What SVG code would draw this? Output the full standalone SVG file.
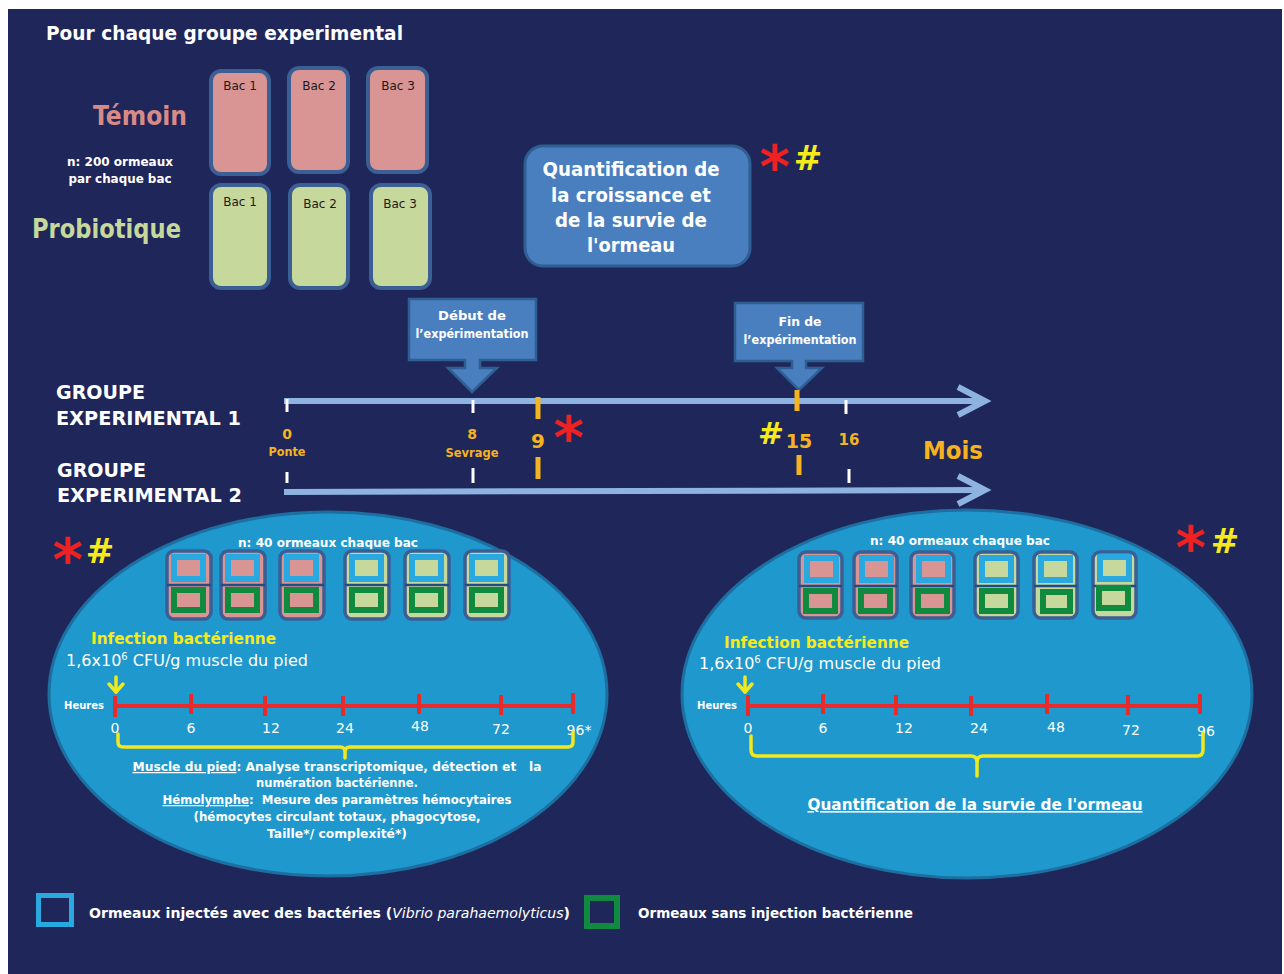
<svg xmlns="http://www.w3.org/2000/svg" width="1284" height="974" viewBox="0 0 1284 974">
<defs>
<style>
text{font-family:"DejaVu Sans","Liberation Sans",sans-serif;}
.b{font-weight:bold;}
.w{fill:#ffffff;}
.or{fill:#f5b320;}
.ye{fill:#f4ea1c;}
.rd{fill:#ee2222;}
.bigbac{stroke:#3b5f94;stroke-width:4;}
.pk{fill:#d99593;}
.gr{fill:#c6d89c;}
.bactxt{font-size:12px;fill:#1a1a1a;text-anchor:middle;}
.callout{fill:#4a7fbf;stroke:#2f5e93;stroke-width:2.5;}
.tl{stroke:#8fb3e0;stroke-width:6;fill:none;}
.wt{stroke:#ffffff;stroke-width:3;}
.ot{stroke:#f5b320;stroke-width:5;}
.ell{fill:#1f98cd;stroke:#1c6fa0;stroke-width:3;}
.sb{stroke:#3b5f94;stroke-width:3.5;}
.bf{stroke:#2aa9e0;stroke-width:6;}
.gf{stroke:#108a3e;stroke-width:6;}
.dv{stroke:#1f4e86;stroke-width:2.5;}
.red{stroke:#e82a2a;stroke-width:4;fill:none;}
.yl{stroke:#f2e81e;stroke-width:3.5;fill:none;stroke-linecap:round;stroke-linejoin:round;}
.num{font-size:14px;fill:#ffffff;text-anchor:middle;}
.mid{text-anchor:middle;}
</style>
</defs>
<rect x="0" y="0" width="1284" height="974" fill="#ffffff"/>
<rect x="8" y="9" width="1274" height="965" fill="#1f275a"/>

<g id="title">
<text x="46" y="40" class="b w" font-size="20" textLength="357" lengthAdjust="spacingAndGlyphs">Pour chaque groupe experimental</text>
</g>

<g id="labels-groups">
<text x="93" y="125" class="b" font-size="27" fill="#d88a87" textLength="94" lengthAdjust="spacingAndGlyphs">Témoin</text>
<text x="120" y="166" class="b w mid" font-size="12" textLength="106" lengthAdjust="spacingAndGlyphs">n: 200 ormeaux</text>
<text x="120" y="183" class="b w mid" font-size="12" textLength="103" lengthAdjust="spacingAndGlyphs">par chaque bac</text>
<text x="32" y="238" class="b" font-size="27" fill="#c6d89c" textLength="149" lengthAdjust="spacingAndGlyphs">Probiotique</text>
</g>

<g id="bac-temoin-1"><rect x="211" y="71" width="58" height="103" rx="10" class="bigbac pk"/><text x="240" y="90" class="bactxt">Bac 1</text></g>
<g id="bac-temoin-2"><rect x="289" y="68" width="59" height="104" rx="10" class="bigbac pk"/><text x="319" y="90" class="bactxt">Bac 2</text></g>
<g id="bac-temoin-3"><rect x="368" y="68" width="59" height="104" rx="10" class="bigbac pk"/><text x="398" y="90" class="bactxt">Bac 3</text></g>
<g id="bac-probio-1"><rect x="211" y="185" width="58" height="103" rx="10" class="bigbac gr"/><text x="240" y="206" class="bactxt">Bac 1</text></g>
<g id="bac-probio-2"><rect x="290" y="185" width="58" height="103" rx="10" class="bigbac gr"/><text x="320" y="208" class="bactxt">Bac 2</text></g>
<g id="bac-probio-3"><rect x="371" y="185" width="59" height="103" rx="10" class="bigbac gr"/><text x="400" y="208" class="bactxt">Bac 3</text></g>

<g id="quantif-croissance">
<rect x="525" y="146" width="225" height="120" rx="18" fill="#4a7fbf" stroke="#2f5e93" stroke-width="3"/>
<text x="631" y="176" class="b w mid" font-size="19" textLength="177" lengthAdjust="spacingAndGlyphs">Quantification de</text>
<text x="631" y="202" class="b w mid" font-size="19" textLength="160" lengthAdjust="spacingAndGlyphs">la croissance et</text>
<text x="631" y="227" class="b w mid" font-size="19" textLength="152" lengthAdjust="spacingAndGlyphs">de la survie de</text>
<text x="631" y="252" class="b w mid" font-size="19" textLength="88" lengthAdjust="spacingAndGlyphs">l'ormeau</text>
<text x="775" y="187" class="b rd mid" font-size="58">*</text>
<text x="808" y="170" class="b ye mid" font-size="34">#</text>
</g>

<g id="callout-debut">
<path d="M409,299 H536 V360 H480 V368 H497 L472,392 L448,368 H465 V360 H409 Z" class="callout"/>
<text x="472" y="320" class="b w mid" font-size="12.5" textLength="68" lengthAdjust="spacingAndGlyphs">Début de</text>
<text x="472" y="338" class="b w mid" font-size="12.5" textLength="113" lengthAdjust="spacingAndGlyphs">l’expérimentation</text>
</g>
<g id="callout-fin">
<path d="M735,303 H863 V361 H806 V368 H822 L799,390 L777,368 H792 V361 H735 Z" class="callout"/>
<text x="800" y="326" class="b w mid" font-size="12.5" textLength="43" lengthAdjust="spacingAndGlyphs">Fin de</text>
<text x="800" y="344" class="b w mid" font-size="12.5" textLength="113" lengthAdjust="spacingAndGlyphs">l’expérimentation</text>
</g>

<g id="groupe-labels">
<text x="56" y="399" class="b w" font-size="19.5" textLength="89" lengthAdjust="spacingAndGlyphs">GROUPE</text>
<text x="56" y="425" class="b w" font-size="19.5" textLength="185" lengthAdjust="spacingAndGlyphs">EXPERIMENTAL 1</text>
<text x="57" y="477" class="b w" font-size="19.5" textLength="89" lengthAdjust="spacingAndGlyphs">GROUPE</text>
<text x="57" y="502" class="b w" font-size="19.5" textLength="185" lengthAdjust="spacingAndGlyphs">EXPERIMENTAL 2</text>
</g>

<g id="connectors">
<line x1="284" y1="401" x2="984" y2="401" class="tl"/>
<polyline points="958,387 985,401 958,415" class="tl" stroke-linejoin="miter"/>
<line x1="284" y1="492" x2="984" y2="490" class="tl"/>
<polyline points="958,476 985,490 958,504" class="tl" stroke-linejoin="miter"/>
</g>

<g id="timeline-ticks">
<line x1="287" y1="399" x2="287" y2="412" class="wt"/>
<line x1="287" y1="472" x2="287" y2="483" class="wt"/>
<line x1="473" y1="400" x2="473" y2="413" class="wt"/>
<line x1="473" y1="468" x2="473" y2="483" class="wt"/>
<line x1="846" y1="400" x2="846" y2="414" class="wt"/>
<line x1="849" y1="469" x2="849" y2="483" class="wt"/>
<line x1="538" y1="397" x2="538" y2="419" class="ot"/>
<line x1="538" y1="457" x2="538" y2="479" class="ot"/>
<line x1="797" y1="390" x2="797" y2="411" class="ot"/>
<line x1="799" y1="455" x2="799" y2="475" class="ot"/>
</g>

<g id="timeline-labels">
<text x="287" y="439" class="b or mid" font-size="14">0</text>
<text x="287" y="456" class="b or mid" font-size="12" textLength="37" lengthAdjust="spacingAndGlyphs">Ponte</text>
<text x="472" y="439" class="b or mid" font-size="14">8</text>
<text x="472" y="457" class="b or mid" font-size="12" textLength="53" lengthAdjust="spacingAndGlyphs">Sevrage</text>
<text x="538" y="448" class="b or mid" font-size="20">9</text>
<text x="569" y="458" class="b rd mid" font-size="58">*</text>
<text x="771" y="444" class="b ye mid" font-size="31">#</text>
<text x="799" y="448" class="b or mid" font-size="19">15</text>
<text x="849" y="445" class="b or mid" font-size="15">16</text>
<text x="923" y="459" class="b or" font-size="25" textLength="60" lengthAdjust="spacingAndGlyphs">Mois</text>
</g>

<g id="ellipse-gauche">
<ellipse cx="328" cy="694" rx="279" ry="182" class="ell"/>
<text x="68" y="580" class="b rd mid" font-size="58">*</text>
<text x="100" y="563" class="b ye mid" font-size="34">#</text>
<text x="328" y="547" class="b w mid" font-size="12.5" textLength="180" lengthAdjust="spacingAndGlyphs">n: 40 ormeaux chaque bac</text>
<g id="bacs-gauche">
<g transform="translate(167,0)"><rect x="0" y="551" width="44" height="68" rx="7" class="sb pk"/><rect x="7" y="557" width="29" height="22" class="bf pk"/><line x1="0" y1="585" x2="44" y2="585" class="dv"/><rect x="7" y="590" width="29" height="20" class="gf pk"/></g>
<g transform="translate(221,0)"><rect x="0" y="551" width="44" height="68" rx="7" class="sb pk"/><rect x="7" y="557" width="29" height="22" class="bf pk"/><line x1="0" y1="585" x2="44" y2="585" class="dv"/><rect x="7" y="590" width="29" height="20" class="gf pk"/></g>
<g transform="translate(280,0)"><rect x="0" y="551" width="44" height="68" rx="7" class="sb pk"/><rect x="7" y="557" width="29" height="22" class="bf pk"/><line x1="0" y1="585" x2="44" y2="585" class="dv"/><rect x="7" y="590" width="29" height="20" class="gf pk"/></g>
<g transform="translate(345,0)"><rect x="0" y="551" width="44" height="68" rx="7" class="sb gr"/><rect x="7" y="557" width="29" height="22" class="bf gr"/><line x1="0" y1="585" x2="44" y2="585" class="dv"/><rect x="7" y="590" width="29" height="20" class="gf gr"/></g>
<g transform="translate(405,0)"><rect x="0" y="551" width="44" height="68" rx="7" class="sb gr"/><rect x="7" y="557" width="29" height="22" class="bf gr"/><line x1="0" y1="585" x2="44" y2="585" class="dv"/><rect x="7" y="590" width="29" height="20" class="gf gr"/></g>
<g transform="translate(465,0)"><rect x="0" y="551" width="44" height="68" rx="7" class="sb gr"/><rect x="7" y="557" width="29" height="22" class="bf gr"/><line x1="0" y1="585" x2="44" y2="585" class="dv"/><rect x="7" y="590" width="29" height="20" class="gf gr"/></g>
</g>
<text x="91" y="644" class="b ye" font-size="16" textLength="185" lengthAdjust="spacingAndGlyphs">Infection bactérienne</text>
<text x="66" y="666" class="w" font-size="16" textLength="242" lengthAdjust="spacingAndGlyphs">1,6x10<tspan font-size="10" dy="-6">6</tspan><tspan dy="6"> CFU/g muscle du pied</tspan></text>
<polyline points="116,677 116,692" class="yl" stroke-width="4"/>
<polyline points="109,684 116,692 123,684" class="yl" stroke-width="4"/>
<text x="84" y="709" class="b w mid" font-size="11" textLength="40" lengthAdjust="spacingAndGlyphs">Heures</text>
<line x1="115" y1="706" x2="573" y2="706" class="red"/>
<path d="M115,696 V717 M191,694 V714 M265,696 V716 M343,696 V716 M419,694 V714 M501,695 V715 M573,693 V714" class="red" stroke-width="3.5"/>
<text x="115" y="733" class="num">0</text>
<text x="191" y="733" class="num">6</text>
<text x="271" y="733" class="num">12</text>
<text x="345" y="733" class="num">24</text>
<text x="420" y="731" class="num">48</text>
<text x="501" y="734" class="num">72</text>
<text x="579" y="735" class="num">96*</text>
<path d="M118,734 V742 Q118,747 123,747 H340 Q345,747 345,752 V758 M345,752 Q345,747 350,747 H568 Q573,747 573,742 V732" class="yl"/>
<text x="337" y="771" class="b w mid" font-size="12.5" textLength="409" lengthAdjust="spacingAndGlyphs" style="white-space:pre"><tspan text-decoration="underline">Muscle du pied</tspan>: Analyse transcriptomique, détection et   la</text>
<text x="337" y="787" class="b w mid" font-size="12.5" textLength="162" lengthAdjust="spacingAndGlyphs">numération bactérienne.</text>
<text x="337" y="804" class="b w mid" font-size="12.5" textLength="349" lengthAdjust="spacingAndGlyphs" style="white-space:pre"><tspan text-decoration="underline">Hémolymphe</tspan>:  Mesure des paramètres hémocytaires</text>
<text x="337" y="821" class="b w mid" font-size="12.5" textLength="287" lengthAdjust="spacingAndGlyphs">(hémocytes circulant totaux, phagocytose,</text>
<text x="337" y="838" class="b w mid" font-size="12.5" textLength="140" lengthAdjust="spacingAndGlyphs">Taille*/ complexité*)</text>
</g>

<g id="ellipse-droite">
<ellipse cx="967" cy="694" rx="285" ry="184" class="ell"/>
<text x="1191" y="568" class="b rd mid" font-size="58">*</text>
<text x="1225" y="553" class="b ye mid" font-size="34">#</text>
<text x="960" y="545" class="b w mid" font-size="12.5" textLength="180" lengthAdjust="spacingAndGlyphs">n: 40 ormeaux chaque bac</text>
<g id="bacs-droite">
<g transform="translate(799,1)"><rect x="0" y="551" width="43" height="66" rx="7" class="sb pk"/><rect x="8" y="557" width="29" height="22" class="bf pk"/><line x1="0" y1="585" x2="43" y2="585" class="dv"/><rect x="7" y="590" width="29" height="20" class="gf pk"/></g>
<g transform="translate(854,1)"><rect x="0" y="551" width="43" height="66" rx="7" class="sb pk"/><rect x="8" y="557" width="29" height="22" class="bf pk"/><line x1="0" y1="585" x2="43" y2="585" class="dv"/><rect x="7" y="590" width="29" height="20" class="gf pk"/></g>
<g transform="translate(911,1)"><rect x="0" y="551" width="43" height="66" rx="7" class="sb pk"/><rect x="8" y="557" width="29" height="22" class="bf pk"/><line x1="0" y1="585" x2="43" y2="585" class="dv"/><rect x="7" y="590" width="29" height="20" class="gf pk"/></g>
<g transform="translate(975,1)"><rect x="0" y="551" width="43" height="66" rx="7" class="sb gr"/><rect x="7" y="557" width="29" height="22" class="bf gr"/><line x1="0" y1="585" x2="43" y2="585" class="dv"/><rect x="7" y="590" width="29" height="20" class="gf gr"/></g>
<g transform="translate(1034,1)"><rect x="0" y="551" width="43" height="66" rx="7" class="sb gr"/><rect x="7" y="557" width="29" height="22" class="bf gr"/><line x1="0" y1="585" x2="43" y2="585" class="dv"/><rect x="9" y="591" width="27" height="19" class="gf gr"/></g>
<g transform="translate(1093,1)"><rect x="0" y="551" width="43" height="66" rx="7" class="sb gr"/><rect x="7" y="556" width="29" height="22" class="bf gr"/><line x1="0" y1="585" x2="43" y2="585" class="dv"/><rect x="6" y="587" width="29" height="20" class="gf gr"/></g>
</g>
<text x="724" y="648" class="b ye" font-size="16" textLength="185" lengthAdjust="spacingAndGlyphs">Infection bactérienne</text>
<text x="699" y="669" class="w" font-size="16" textLength="242" lengthAdjust="spacingAndGlyphs">1,6x10<tspan font-size="10" dy="-6">6</tspan><tspan dy="6"> CFU/g muscle du pied</tspan></text>
<polyline points="745,677 745,692" class="yl" stroke-width="4"/>
<polyline points="738,684 745,692 752,684" class="yl" stroke-width="4"/>
<text x="717" y="709" class="b w mid" font-size="11" textLength="40" lengthAdjust="spacingAndGlyphs">Heures</text>
<line x1="748" y1="706" x2="1200" y2="706" class="red"/>
<path d="M748,695 V716 M823,694 V714 M896,695 V715 M971,696 V716 M1047,694 V714 M1128,695 V715 M1200,694 V714" class="red" stroke-width="3.5"/>
<text x="748" y="733" class="num">0</text>
<text x="823" y="733" class="num">6</text>
<text x="904" y="733" class="num">12</text>
<text x="979" y="733" class="num">24</text>
<text x="1056" y="732" class="num">48</text>
<text x="1131" y="735" class="num">72</text>
<text x="1206" y="736" class="num">96</text>
<path d="M751,736 V750 Q751,756 757,756 H971 Q977,756 977,762 V776 M977,762 Q977,756 983,756 H1197 Q1203,756 1203,750 V733" class="yl"/>
<text x="975" y="810" class="b w mid" font-size="16" textLength="335" lengthAdjust="spacingAndGlyphs" text-decoration="underline">Quantification de la survie de l'ormeau</text>
</g>

<g id="legende">
<rect x="38.5" y="895.5" width="33" height="29" fill="#1f275a" stroke="#2aa9e0" stroke-width="5"/>
<text x="89" y="918" class="b w" font-size="14" textLength="481" lengthAdjust="spacingAndGlyphs">Ormeaux injectés avec des bactéries (<tspan font-weight="normal" font-style="italic">Vibrio parahaemolyticus</tspan>)</text>
<rect x="587" y="898" width="30" height="28" fill="#1f275a" stroke="#108a3e" stroke-width="6"/>
<text x="638" y="918" class="b w" font-size="14" textLength="275" lengthAdjust="spacingAndGlyphs">Ormeaux sans injection bactérienne</text>
</g>
</svg>
